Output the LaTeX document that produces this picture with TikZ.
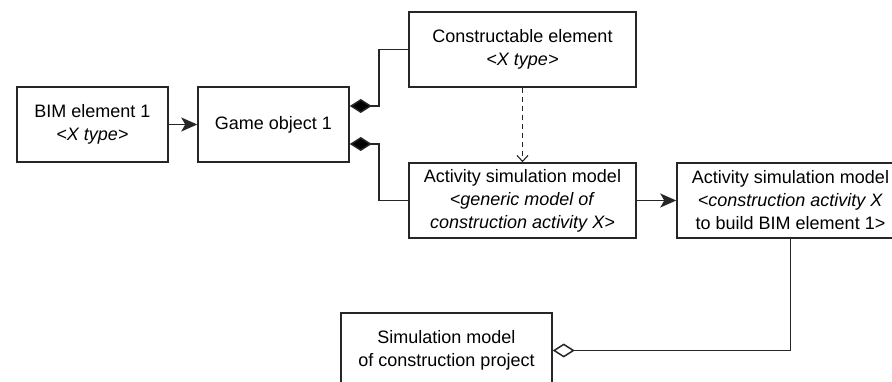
\documentclass[tikz,border=0pt]{standalone}
\usepackage{fontspec}
\setmainfont{Liberation Sans}
\usetikzlibrary{arrows.meta}
\begin{document}
\begin{tikzpicture}[x=1pt,y=-1pt,
  box/.style={draw=black!85,line width=1.5pt,minimum height=75pt,align=center,
    inner sep=0pt,font=\fontsize{18}{23}\selectfont},
  small/.style={box,minimum width=151pt},
  wide/.style={box,minimum width=227pt},
  link/.style={draw=black!85,line width=1.5pt},
  comp/.style={link,{Diamond[length=22pt,width=14pt,fill=black]}-},
  agg/.style={link,{Diamond[length=22pt,width=14pt,open,fill=white]}-},
  flow/.style={link,-{Stealth[length=16pt,width=14pt,inset=4pt]}},
  dep/.style={link,line width=1.1pt,dash pattern=on 5pt off 4pt,-{Straight Barb[length=6pt,width=11pt]}}]
\useasboundingbox (0,0) rectangle (892,382);

\node[small] (bim) at (92.5,124.5) {BIM element 1\\\textit{<X type>}};
\node[small] (go) at (273.5,124.5) {Game object 1};
\node[wide] (ce) at (522.5,49.5) {Constructable element\\\textit{<X type>}};
\node[wide] (asm) at (522.5,200.5) {Activity simulation model\\\textit{<generic model of}\\\textit{construction activity X>}};
\node[wide] (asmx) at (790.5,200.5) {Activity simulation model\\\textit{<construction activity X}\\to build BIM element 1>};
\node[box,minimum width=211pt] (sim) at (446.5,350.5) {Simulation model\\of construction project};

\coordinate (jt) at (379,106);
\coordinate (jb) at (379,144);

\draw[flow] (bim) -- (go);
\draw[comp] (go.east |- jt) -- (jt) |- (ce.west);
\draw[comp] (go.east |- jb) -- (jb) |- (asm.west);
\draw[dep] (ce) -- (asm);
\draw[flow] (asm) -- (asmx);
\draw[agg] (sim.east) -| (asmx.south);
\end{tikzpicture}
\end{document}
